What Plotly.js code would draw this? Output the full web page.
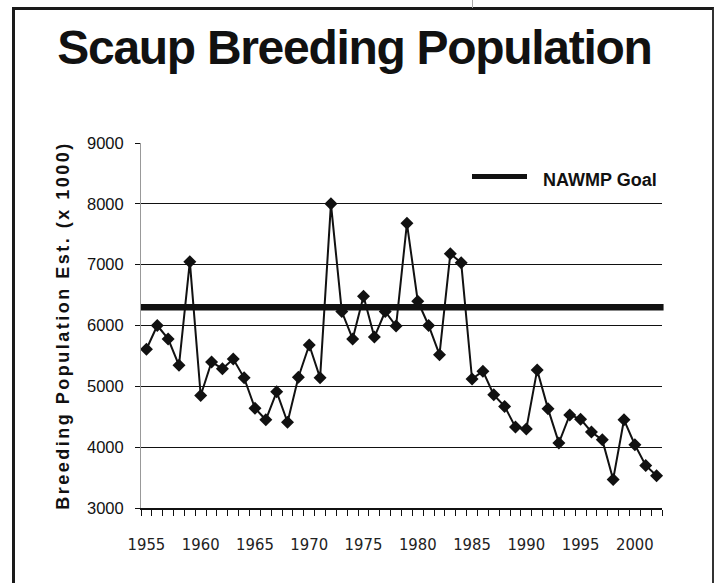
<!DOCTYPE html>
<html>
<head>
<meta charset="utf-8">
<script src="https://cdn.plot.ly/plotly-3.0.1.min.js"></script>
<style>
  html, body { margin: 0; padding: 0; background: #fff; }
  #wrap { position: relative; width: 716px; height: 583px; overflow: hidden; }
  #chart { position: absolute; left: 0; top: 0; width: 716px; height: 583px; }
  #frame { position: absolute; left: 12px; top: 7px; width: 697px; height: 600px;
           border-left: 3px solid #1a1a1a; border-top: 3px solid #1a1a1a; border-right: 2px solid #333;
           pointer-events: none; }
  #tick { position: absolute; left: 472px; top: 0; width: 1px; height: 8px; background: #aaa; }
  #chart .ytitle { letter-spacing: 2.5px; }
  #chart .gtitle { letter-spacing: -1.3px; }
</style>
</head>
<body>
<div id="wrap">
  <div id="chart"></div>
  <div id="frame"></div>
  <div id="tick"></div>
</div>
<script>
// Survey years
const years = [1955,1956,1957,1958,1959,1960,1961,1962,1963,1964,
               1965,1966,1967,1968,1969,1970,1971,1972,1973,1974,
               1975,1976,1977,1978,1979,1980,1981,1982,1983,1984,
               1985,1986,1987,1988,1989,1990,1991,1992,1993,1994,
               1995,1996,1997,1998,1999,2000,2001,2002];
// Breeding population estimate (x 1000)
const population = [5610,6000,5780,5345,7050,4850,5400,5290,5450,5140,
                    4640,4450,4910,4410,5150,5680,5140,8000,6230,5780,
                    6480,5810,6230,5990,7680,6400,6000,5520,7180,7030,
                    5120,5250,4860,4670,4330,4300,5270,4630,4070,4530,
                    4460,4250,4120,3470,4450,4040,3700,3530];
// NAWMP goal
const goalValue = 6300;
const goalLabel = "NAWMP Goal";
// Tick labels
const xTickVals = [1955,1960,1965,1970,1975,1980,1985,1990,1995,2000];
const xTickText = xTickVals.map(String);
const yTickVals = [3000,4000,5000,6000,7000,8000,9000];

const L = 141, R = 54, T = 143, B = 75, W = 716, H = 583;
const pw = W - L - R, ph = H - T - B;
const px2x = p => (p - L) / pw;
const py2y = p => 1 - (p - T) / ph;

const data = [{
  type: 'scatter', mode: 'lines+markers',
  x: years, y: population,
  line: { color: '#111', width: 2 },
  marker: { symbol: 'diamond', size: 10, color: '#111' },
  showlegend: false, cliponaxis: false
}];

const layout = {
  width: W, height: H,
  margin: { l: L, r: R, t: T, b: B },
  paper_bgcolor: '#fff', plot_bgcolor: '#fff',
  showlegend: false,
  title: {
    text: 'Scaup Breeding Population',
    font: { family: 'Liberation Sans, Arial, sans-serif', size: 48, color: '#111', weight: 'bold' },
    x: 0.495, xref: 'container', xanchor: 'center',
    y: 1 - 47 / H, yref: 'container', yanchor: 'middle'
  },
  xaxis: {
    range: [1954.5, 2002.5],
    tickmode: 'array', tickvals: xTickVals, ticktext: xTickText,
    ticks: 'outside', ticklen: 21, tickcolor: 'rgba(0,0,0,0)',
    minor: { tick0: 1954.5, dtick: 1, ticks: 'outside', ticklen: 6, tickcolor: '#111', tickwidth: 1, showgrid: false },
    showline: true, linecolor: '#111', linewidth: 1.5,
    showgrid: false, zeroline: false,
    tickfont: { family: 'DejaVu Sans Condensed, Open Sans, sans-serif', size: 16.5, color: '#222' }
  },
  yaxis: {
    range: [3000, 9000],
    tickmode: 'array', tickvals: yTickVals,
    ticks: 'outside', ticklen: 5, tickcolor: '#111', tickwidth: 1,
    ticklabelstandoff: 8,
    showline: true, linecolor: '#999', linewidth: 1,
    showgrid: true, gridcolor: '#111', gridwidth: 1.2,
    zeroline: false,
    tickfont: { family: 'Liberation Sans, Arial, sans-serif', size: 16.5, color: '#111' },
    title: {
      text: 'Breeding Population Est. (x 1000)',
      font: { family: 'Liberation Sans, Arial, sans-serif', size: 18, color: '#111', weight: 'bold' },
      standoff: 12
    }
  },
  shapes: [
    { type: 'line', xref: 'paper', yref: 'y', x0: 0, x1: 1.003, y0: goalValue, y1: goalValue,
      line: { color: '#111', width: 6.5 }, layer: 'between' },
    { type: 'line', xref: 'paper', yref: 'paper', x0: px2x(472), x1: px2x(527), y0: py2y(176.5), y1: py2y(176.5),
      line: { color: '#111', width: 5 } }
  ],
  annotations: [
    { text: goalLabel, xref: 'paper', yref: 'paper', x: px2x(541), y: py2y(180),
      xanchor: 'left', yanchor: 'middle', showarrow: false,
      font: { family: 'Liberation Sans, Arial, sans-serif', size: 18, color: '#111', weight: 'bold' } }
  ]
};

Plotly.newPlot('chart', data, layout, { displayModeBar: false, staticPlot: true });
</script>
</body>
</html>
